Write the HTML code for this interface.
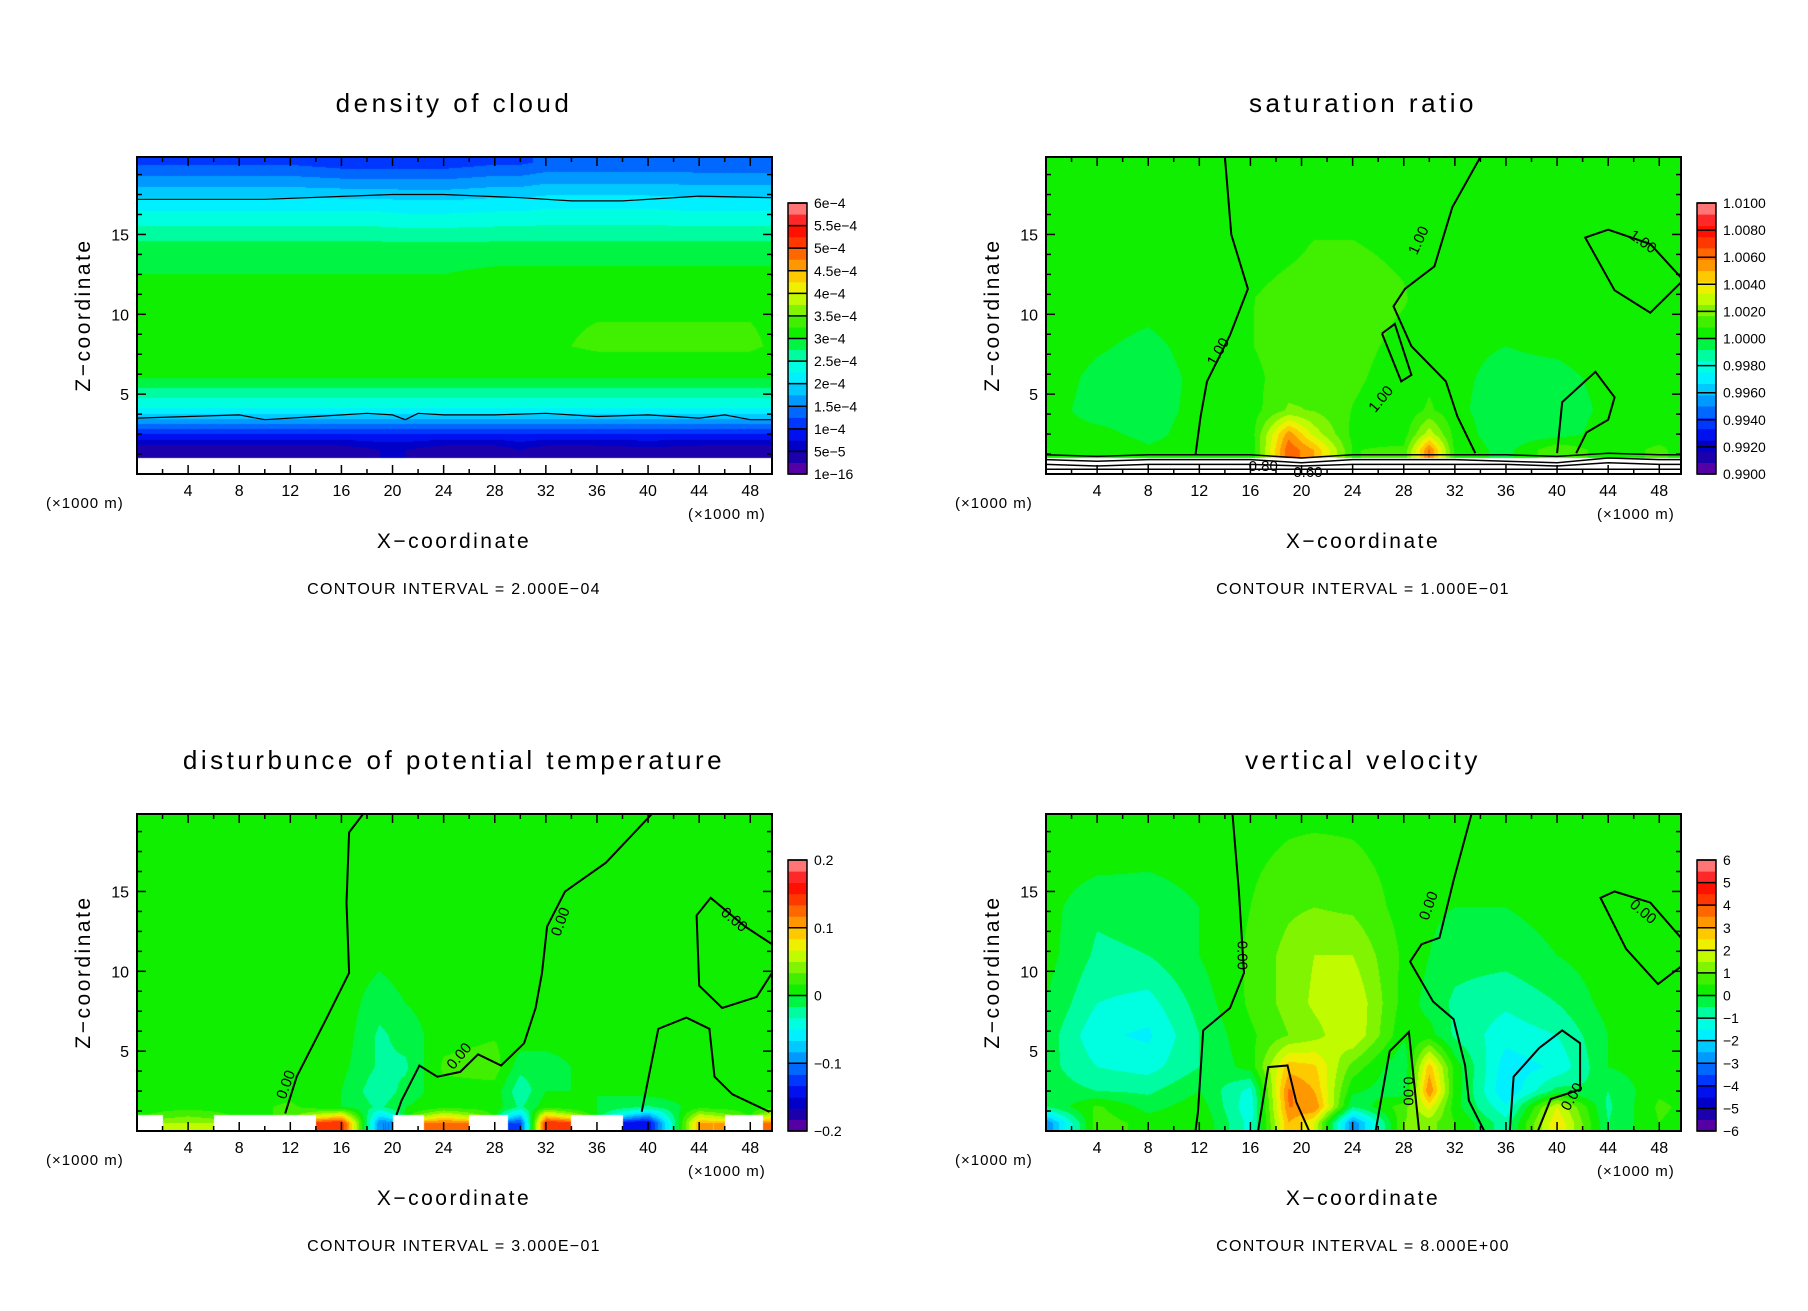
<!DOCTYPE html>
<html><head><meta charset="utf-8">
<style>
html,body{margin:0;padding:0;background:#fff;}
body{width:1808px;height:1308px;position:relative;overflow:hidden;font-family:"Liberation Sans",sans-serif;}
.panel{position:absolute;width:904px;height:654px;}
.panel canvas{position:absolute;left:137px;top:157px;}
.panel svg{position:absolute;left:0;top:0;}
</style></head><body>
<div class="panel" id="p0" style="left:0;top:0"><canvas id="c0" width="635" height="317"></canvas><svg id="s0" width="904" height="654"></svg></div>
<div class="panel" id="p1" style="left:909px;top:0"><canvas id="c1" width="635" height="317"></canvas><svg id="s1" width="904" height="654"></svg></div>
<div class="panel" id="p2" style="left:0;top:657px"><canvas id="c2" width="635" height="317"></canvas><svg id="s2" width="904" height="654"></svg></div>
<div class="panel" id="p3" style="left:909px;top:657px"><canvas id="c3" width="635" height="317"></canvas><svg id="s3" width="904" height="654"></svg></div>
<script>
// ---- grid coordinates (km) ----
const xCols=[0,4,8,12,16,19,21,24,28,30,32,36,40,44,48,50];
const zRows=[19.5,17,14,11,8,6,4,2.5,1.5,0.5];
// ---- density of cloud (units 1e-4) ----
const densityGrid=[
[1.2,1.2,1.2,1.2,1.1,1.1,1.1,1.1,1.2,1.2,1.3,1.3,1.3,1.3,1.3,1.3],
[2.1,2.1,2.1,2.1,2.1,2.1,2.05,2.05,2.1,2.1,2.15,2.15,2.15,2.1,2.1,2.1],
[2.9,2.9,2.9,2.9,2.9,2.9,2.9,2.9,2.9,2.9,2.9,2.9,2.9,2.9,2.9,2.9],
[3.1,3.1,3.1,3.1,3.1,3.1,3.1,3.1,3.2,3.2,3.2,3.2,3.2,3.2,3.2,3.2],
[3.2,3.2,3.2,3.2,3.2,3.2,3.2,3.2,3.25,3.25,3.2,3.3,3.3,3.3,3.3,3.2],
[3.0,3.0,3.0,3.0,3.0,3.0,3.0,3.0,3.0,3.0,3.0,3.0,3.0,3.0,3.0,3.0],
[2.2,2.2,2.2,2.2,2.2,2.2,2.2,2.2,2.2,2.2,2.2,2.2,2.2,2.2,2.2,2.2],
[1.0,1.0,1.0,1.0,1.0,1.0,1.0,1.0,1.0,1.0,1.0,1.0,1.0,1.0,1.0,1.0],
[0.3,0.3,0.3,0.3,0.3,0.5,0.5,0.3,0.3,0.5,0.3,0.3,0.4,0.3,0.3,0.3],
[null,null,null,null,null,null,null,null,null,null,null,null,null,null,null,null]];
// ---- saturation ratio (permil deviation from 1) ----
const satPermil=[
[0.5,0.5,0.5,0.5,0.5,0.5,0.5,0.5,0.5,0.5,0.5,0.5,0.5,0.5,0.5,0.5],
[0.5,0.5,0.5,0.5,0.5,0.6,0.6,0.6,0.5,0.5,0.5,0.5,0.5,0.5,0.5,0.5],
[0.5,0.5,0.5,0.5,0.5,0.7,0.9,0.9,0.7,0.5,0.5,0.5,0.5,0.5,0.5,0.5],
[0.5,0.4,0.3,0.5,0.8,1.1,1.2,1.2,0.9,0.5,0.4,0.4,0.5,0.5,0.5,0.5],
[0.5,0.1,-0.2,0.3,0.8,1.2,1.3,1.1,0.6,0.5,0.2,0.0,0.2,0.5,0.6,0.6],
[0.4,-0.2,-0.4,0.2,0.6,1.2,1.4,1.0,0.4,0.6,0.2,-0.3,-0.3,0.3,0.6,0.6],
[0.3,-0.3,-0.3,0.2,0.4,1.8,1.6,0.8,0.2,1.0,0.2,-0.5,-0.5,0.2,0.5,0.5],
[0.2,0.2,-0.2,0.3,0.3,5.5,3.0,0.6,0.4,3.0,0.5,-0.6,-0.4,0.4,0.5,0.5],
[0.3,0.6,0.1,0.3,0.0,6.5,5.0,0.8,1.0,6.0,0.6,-0.3,1.5,0.4,1.0,0.5],
[null,null,null,null,null,null,null,null,null,null,null,null,null,null,null,null]];
// ---- potential temperature disturbance (K) ----
const thetaGrid=[
[0.01,0.01,0.01,0.01,0.01,0.01,0.01,0.01,0.01,0.01,0.01,0.01,0.01,0.01,0.01,0.01],
[0.01,0.01,0.01,0.01,0.01,0.01,0.01,0.01,0.01,0.01,0.01,0.01,0.01,0.01,0.01,0.01],
[0.01,0.01,0.01,0.01,0.01,0.01,0.01,0.01,0.01,0.01,0.01,0.01,0.01,0.01,0.01,0.01],
[0.01,0.01,0.01,0.01,0.01,0.005,0.01,0.01,0.01,0.01,0.01,0.01,0.01,0.01,0.01,0.01],
[0.01,0.01,0.01,0.01,0.01,-0.01,0.0,0.01,0.01,0.01,0.01,0.01,0.01,0.01,0.01,0.01],
[0.01,0.01,0.01,0.01,0.01,-0.02,-0.01,0.01,0.015,0.01,0.01,0.01,0.01,0.01,0.01,0.01],
[0.01,0.01,0.01,0.01,0.005,-0.02,-0.02,0.02,0.025,-0.01,-0.01,0.01,0.01,0.01,0.01,0.01],
[0.01,0.01,0.01,0.01,0.0,-0.03,-0.01,0.01,0.01,-0.03,0.0,0.0,0.01,0.01,0.01,0.01],
[0.01,0.01,0.01,0.02,0.0,-0.02,0.0,0.01,0.01,-0.02,0.01,0.0,-0.02,0.01,0.01,0.01],
[null,0.05,null,null,0.15,-0.1,null,0.12,null,-0.12,0.15,null,-0.15,0.1,null,0.12]];
// ---- vertical velocity (m/s) ----
const wGrid=[
[0.3,0.3,0.3,0.3,0.3,0.4,0.4,0.4,0.3,0.3,0.3,0.3,0.3,0.3,0.3,0.3],
[0.3,0.2,0.1,0.2,0.4,0.6,0.7,0.6,0.3,0.2,0.2,0.2,0.3,0.3,0.3,0.3],
[0.2,-0.4,-0.3,0.0,0.5,0.9,1.0,0.9,0.3,0.1,0.0,0.0,0.2,0.3,0.3,0.3],
[0.2,-0.6,-0.5,0.0,0.6,1.2,1.5,1.5,0.4,0.0,-0.3,-0.3,0.0,0.3,0.3,0.3],
[0.0,-1.0,-1.2,-0.3,0.6,1.2,1.6,2.0,0.3,-0.2,-0.6,-0.9,-0.5,0.2,0.3,0.3],
[-0.2,-1.4,-1.6,-0.5,0.4,1.0,1.3,2.0,0.1,0.2,-0.6,-1.3,-1.0,0.0,0.2,0.2],
[-0.3,-1.0,-1.2,-0.5,0.2,2.8,2.6,0.8,-0.5,2.8,0.3,-1.8,-1.4,0.0,0.3,0.3],
[-0.2,-0.5,-0.6,0.0,-1.2,3.6,3.0,0.1,-0.4,3.5,0.3,-2.0,-0.3,-0.5,0.4,0.3],
[-0.5,0.6,-0.2,0.3,-1.4,3.5,3.5,-0.5,0.8,2.2,0.2,-1.4,2.0,-0.6,0.6,0.4],
[-3.0,0.8,0.3,0.5,-1.2,3.0,2.0,-3.0,1.0,1.2,0.5,-0.8,2.5,-0.5,0.5,0.3]];
// ---- contour lines (km) ----
const densC1X=[0,10,20,24,30,34,38,44,49.7], densC1Z=[17.2,17.2,17.5,17.5,17.3,17.1,17.1,17.4,17.3];
const densC2X=[0,4,8,10,14,18,20,21,22,24,28,32,36,40,44,46,48,49.7], densC2Z=[3.5,3.6,3.7,3.4,3.6,3.8,3.7,3.4,3.8,3.7,3.7,3.8,3.6,3.7,3.5,3.7,3.4,3.4];
const satC1X=[14,14.5,15.8,14.4,12.6,12.1,11.7], satC1Z=[19.85,15,11.6,8.7,5.8,3.6,1.2];
const satC2X=[34,31.8,30.4,28.1,27.2,28.6,31.3,32.2,33.6], satC2Z=[19.85,16.7,13,11.6,10.5,8,5.8,3.6,1.3];
const satC3X=[49.7,47.3,44.5,42.2,44,47.3,49.7], satC3Z=[12,10.1,11.5,14.8,15.3,14.4,12.3];
const satC4X=[40,40.4,43,44.5,44,42.3,41.5], satC4Z=[1.3,4.5,6.4,4.8,3.4,2.6,1.3];
const satC5X=[26.3,27.3,28.6,27.8,26.3], satC5Z=[8.8,9.4,6.2,5.8,8.8];
const satBandX=[0,4,8,12,16,20,24,28,32,36,40,44,48,49.7];
const satBand1=[1.2,1.1,1.2,1.2,1.2,1.0,1.2,1.2,1.2,1.2,1.1,1.3,1.2,1.2];
const satBand2=[0.9,0.8,0.9,0.9,0.9,0.7,0.9,0.9,0.9,0.8,0.7,1.0,0.9,0.9];
const satBand3=[0.6,0.5,0.6,0.6,0.6,0.5,0.6,0.6,0.6,0.6,0.5,0.7,0.6,0.6];
const satBand4=[0.3,0.3,0.3,0.3,0.3,0.3,0.3,0.3,0.3,0.3,0.3,0.3,0.3,0.3];
const thC1X=[17.7,16.6,16.4,16.6,14.8,12.5,11.6], thC1Z=[19.85,18.7,14.3,9.9,7,3.4,1.1];
const thC2X=[40.3,36.7,33.5,32.1,31.7,31.2,30.3,28.5,26.7,25.3,23.5,22.1,20.7,20.3], thC2Z=[19.85,16.8,15,12.8,9.9,7.7,5.5,4.1,4.8,3.7,3.4,4.1,1.9,1.0];
const thC3X=[49.7,47.6,44.9,43.8,44,45.8,48.5,49.7], thC3Z=[11.7,12.8,14.6,13.5,9.1,7.7,8.4,9.9];
const thC4X=[39.5,40.8,43,44.8,45.2,46.6,49.5], thC4Z=[1.2,6.4,7.1,6.4,3.4,2.3,1.2];
const wC1X=[14.6,15.1,15.5,14.4,12.3,11.9,11.7], wC1Z=[19.85,15,9.9,7.7,6.3,1.2,0];
const wC2X=[33.3,31.9,30.8,29.4,28.5,30.3,31.9,32.8,33.1,34.3], wC2Z=[19.85,15.7,12.1,11.7,10.6,8.1,7,4.1,1.9,0];
const wC3X=[49.7,47.9,45.4,43.4,44.5,47.3,49.7], wC3Z=[10.3,9.2,11.4,14.6,15,14.3,12.1];
const wC4X=[36.3,36.6,38.6,40.4,41.8,41.8,39.5,38.5], wC4Z=[0,3.4,5.2,6.3,5.5,2.6,2.0,0];
const wC5X=[16.6,17.4,18.9,19.6,20.6], wC5Z=[0,4.0,4.1,1.8,0];
const wC6X=[25.8,26.9,28.4,29.2], wC6Z=[0,5.0,6.2,0];
// ---- colorbar labels ----
const densLabels=["6e\u22124","5.5e\u22124","5e\u22124","4.5e\u22124","4e\u22124","3.5e\u22124","3e\u22124","2.5e\u22124","2e\u22124","1.5e\u22124","1e\u22124","5e\u22125","1e\u221216"];
const satLabels=["1.0100","1.0080","1.0060","1.0040","1.0020","1.0000","0.9980","0.9960","0.9940","0.9920","0.9900"];
const thLabels=["0.2","0.1","0","\u22120.1","\u22120.2"];
const wLabels=["6","5","4","3","2","1","0","\u22121","\u22122","\u22123","\u22124","\u22125","\u22126"];
const xTicks=[4,8,12,16,20,24,28,32,36,40,44,48];
const zTicks=[5,10,15];

const NS="http://www.w3.org/2000/svg";
const PL=137,PT=157,PW=635,PH=317,XMAX=49.7,ZMAX=19.85;
function sx(x){return PL+x/XMAX*PW;}
function sz(z){return PT+PH-z/ZMAX*PH;}
const stops=[[0,"#7000a0"],[0.04,"#3a00a8"],[0.083,"#0000b0"],[0.125,"#0000e0"],[0.167,"#0020ff"],[0.21,"#0050ff"],[0.25,"#0080ff"],[0.29,"#00b0ff"],[0.333,"#00e0ff"],[0.375,"#00ffff"],[0.417,"#00ffc0"],[0.46,"#00f880"],[0.5,"#00f000"],[0.54,"#20ee00"],[0.583,"#60f000"],[0.625,"#a0f800"],[0.667,"#e0ff00"],[0.71,"#ffe000"],[0.75,"#ffb000"],[0.79,"#ff8000"],[0.833,"#ff5000"],[0.875,"#ff2000"],[0.917,"#ff0000"],[0.958,"#ff5050"],[1,"#ff9a9a"]];
function hx(h){return [parseInt(h.substr(1,2),16),parseInt(h.substr(3,2),16),parseInt(h.substr(5,2),16)];}
function cmap(t){for(let i=0;i<stops.length-1;i++){if(t<=stops[i+1][0]){const a=hx(stops[i][1]),b=hx(stops[i+1][1]);const f=(t-stops[i][0])/(stops[i+1][0]-stops[i][0]);return [0,1,2].map(k=>Math.round(a[k]+(b[k]-a[k])*f));}}return hx(stops[stops.length-1][1]);}
const NL=24;
function levelColor(t){let l=Math.floor(t*NL);if(l<0)l=0;if(l>NL-1)l=NL-1;return cmap((l+0.5)/NL);}
function sample(g,x,z){
  let i=0;while(i<xCols.length-2&&x>xCols[i+1])i++;
  let j=0;while(j<zRows.length-2&&z<zRows[j+1])j++;
  let fx=(x-xCols[i])/(xCols[i+1]-xCols[i]);fx=Math.max(0,Math.min(1,fx));
  let fz=(zRows[j]-z)/(zRows[j]-zRows[j+1]);fz=Math.max(0,Math.min(1,fz));
  const ni=fx<0.5?i:i+1,nj=fz<0.5?j:j+1;
  if(g[nj][ni]===null)return null;
  const c=[[g[j][i],(1-fx)*(1-fz)],[g[j][i+1],fx*(1-fz)],[g[j+1][i],(1-fx)*fz],[g[j+1][i+1],fx*fz]];
  let s=0,w=0;for(const [v,wt] of c){if(v!==null){s+=v*wt;w+=wt;}}
  return w>0?s/w:null;
}
function drawHeat(id,grid,lo,hi,scale,offset){
  const cv=document.getElementById(id),ctx=cv.getContext('2d');
  const img=ctx.createImageData(PW,PH);
  for(let py=0;py<PH;py++){const z=(PH-py-0.5)/PH*ZMAX;
    for(let px=0;px<PW;px++){const x=(px+0.5)/PW*XMAX;
      let v=sample(grid,x,z);let c=[255,255,255];
      if(v!==null){v=offset+v*scale;const t=(v-lo)/(hi-lo);if(t>=0&&t<=1)c=levelColor(t);}
      const k=(py*PW+px)*4;img.data[k]=c[0];img.data[k+1]=c[1];img.data[k+2]=c[2];img.data[k+3]=255;}}
  ctx.putImageData(img,0,0);
}
function el(svg,tag,attrs,txt){const e=document.createElementNS(NS,tag);for(const k in attrs)e.setAttribute(k,attrs[k]);if(txt!==undefined)e.textContent=txt;svg.appendChild(e);return e;}
function line(svg,xs,zs,name,w){
  const e=el(svg,'polyline',{points:xs.map((x,i)=>sx(x).toFixed(1)+','+sz(zs[i]).toFixed(1)).join(' '),fill:'none',stroke:'#000','stroke-width':w||2});
  
  
}
function axes(svg,title,labels,ci){
  const t=el(svg,'text',{x:454,y:112,'text-anchor':'middle','font-size':26,'letter-spacing':'3.5'},title);
  
  const r=el(svg,'rect',{x:PL,y:PT,width:PW,height:PH,fill:'none',stroke:'#000','stroke-width':2});
  
  for(let x=2;x<XMAX;x+=2){const maj=x%4===0,len=maj?9:5;
    el(svg,'line',{x1:sx(x),x2:sx(x),y1:PT+PH,y2:PT+PH-len,stroke:'#000','stroke-width':1.5});
    el(svg,'line',{x1:sx(x),x2:sx(x),y1:PT,y2:PT+len,stroke:'#000','stroke-width':1.5});}
  xTicks.forEach(x=>{const e=el(svg,'text',{x:sx(x),y:496,'text-anchor':'middle','font-size':16},String(x));
    });
  for(let z=1.25;z<ZMAX;z+=1.25){const maj=Math.abs(z%5)<0.01,len=maj?9:5;
    el(svg,'line',{x1:PL,x2:PL+len,y1:sz(z),y2:sz(z),stroke:'#000','stroke-width':1.5});
    el(svg,'line',{x1:PL+PW,x2:PL+PW-len,y1:sz(z),y2:sz(z),stroke:'#000','stroke-width':1.5});}
  zTicks.forEach(z=>{const e=el(svg,'text',{x:129,y:sz(z)+6,'text-anchor':'end','font-size':16},String(z));
    });
  let e=el(svg,'text',{x:46,y:508,'font-size':15,'letter-spacing':'1'},'(\u00d71000 m)');
  e=el(svg,'text',{x:688,y:519,'font-size':15,'letter-spacing':'1'},'(\u00d71000 m)');
  e=el(svg,'text',{x:454,y:548,'text-anchor':'middle','font-size':21,'letter-spacing':'2.5'},'X\u2212coordinate');
  e=el(svg,'text',{x:0,y:0,'text-anchor':'middle','font-size':21,'letter-spacing':'2.5',transform:'translate(90,315) rotate(-90)'},'Z\u2212coordinate');
  e=el(svg,'text',{x:454,y:594,'text-anchor':'middle','font-size':16,'letter-spacing':'1.3'},ci);
  const CX=788,CW=19,CT=203,CB=474;
  for(let l=0;l<NL;l++){const c=cmap((l+0.5)/NL);const h=(CB-CT)/NL;
    const b=el(svg,'rect',{x:CX,y:CB-(l+1)*h,width:CW,height:h+0.3,fill:'rgb('+c.join(',')+')'});
    }
  el(svg,'rect',{x:CX,y:CT,width:CW,height:CB-CT,fill:'none',stroke:'#000','stroke-width':1.5});
  labels.forEach((s,i)=>{const y=CT+i*(CB-CT)/(labels.length-1);
    el(svg,'line',{x1:CX,x2:CX+CW,y1:y,y2:y,stroke:'#000','stroke-width':1.5});
    const t=el(svg,'text',{x:CX+26,y:y+5,'font-size':14},s);
    });
}
function clabel(svg,x,z,s,rot){const e=el(svg,'text',{x:0,y:0,'font-size':15,transform:'translate('+sx(x)+','+sz(z)+') rotate('+rot+')','text-anchor':'middle'},s);
  }

drawHeat('c0',densityGrid,0,6,1,0);
drawHeat('c1',satPermil,0.99,1.01,1e-3,1);
drawHeat('c2',thetaGrid,-0.2,0.2,1,0);
drawHeat('c3',wGrid,-6,6,1,0);

const s0=document.getElementById('s0');
axes(s0,'density of cloud',densLabels,'CONTOUR INTERVAL = 2.000E\u221204');
line(s0,densC1X,densC1Z,'contour-upper',1.2);line(s0,densC2X,densC2Z,'contour-lower',1.2);

const s1=document.getElementById('s1');
axes(s1,'saturation ratio',satLabels,'CONTOUR INTERVAL = 1.000E\u221201');
[[satC1X,satC1Z],[satC2X,satC2Z],[satC3X,satC3Z],[satC4X,satC4Z],[satC5X,satC5Z]].forEach(p=>line(s1,p[0],p[1],'contour-1.00'));
[satBand1,satBand2,satBand3,satBand4].forEach(b=>line(s1,satBandX,b,'contour-surface',1.5));
clabel(s1,13.8,7.5,'1.00',-60);clabel(s1,29.5,14.5,'1.00',-65);clabel(s1,46.5,14.3,'1.00',35);clabel(s1,26.5,4.5,'1.00',-50);
clabel(s1,17,0.2,'0.80',0);clabel(s1,20.5,-0.2,'0.60',0);

const s2=document.getElementById('s2');
axes(s2,'disturbunce of potential temperature',thLabels,'CONTOUR INTERVAL = 3.000E\u221201');
[[thC1X,thC1Z],[thC2X,thC2Z],[thC3X,thC3Z],[thC4X,thC4Z]].forEach(p=>line(s2,p[0],p[1],'contour-0.00'));
clabel(s2,33.5,13,'0.00',-70);clabel(s2,46.5,13,'0.00',40);clabel(s2,25.5,4.5,'0.00',-50);clabel(s2,12,2.8,'0.00',-70);

const s3=document.getElementById('s3');
axes(s3,'vertical velocity',wLabels,'CONTOUR INTERVAL = 8.000E+00');
[[wC1X,wC1Z],[wC2X,wC2Z],[wC3X,wC3Z],[wC4X,wC4Z],[wC5X,wC5Z],[wC6X,wC6Z]].forEach(p=>line(s3,p[0],p[1],'contour-0.00'));
clabel(s3,15,11,'0.00',90);clabel(s3,30.3,14,'0.00',-70);clabel(s3,46.5,13.5,'0.00',40);clabel(s3,28,2.5,'0.00',90);clabel(s3,41.5,2,'0.00',-60);
</script>
</body></html>
